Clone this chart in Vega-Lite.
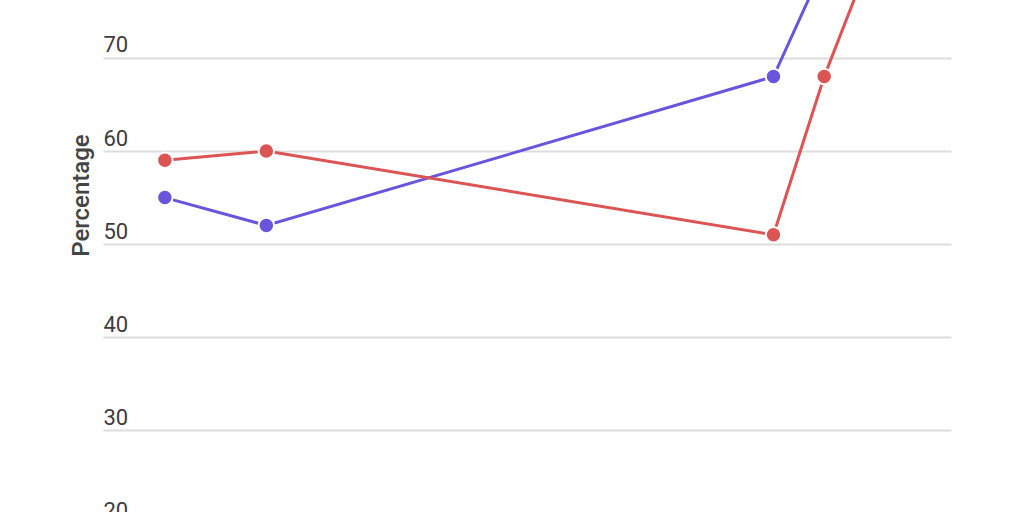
{
  "$schema": "https://vega.github.io/schema/vega-lite/v6.json",
  "autosize": "none",
  "width": 848,
  "height": 528,
  "padding": {"left": 103, "right": 73, "top": 0, "bottom": -16},
  "background": "#ffffff",
  "data": {
    "values": [
      {"year": 2010, "value": 55, "series": "A"},
      {"year": 2011, "value": 52, "series": "A"},
      {"year": 2016, "value": 68, "series": "A"},
      {"year": 2016.5, "value": 80, "series": "A"},
      {"year": 2010, "value": 59, "series": "B"},
      {"year": 2011, "value": 60, "series": "B"},
      {"year": 2016, "value": 51, "series": "B"},
      {"year": 2016.5, "value": 68, "series": "B"},
      {"year": 2017, "value": 82, "series": "B"}
    ]
  },
  "encoding": {
    "x": {
      "field": "year",
      "type": "quantitative",
      "scale": {"domain": [2009.39, 2017.75], "nice": false, "zero": false},
      "axis": null
    },
    "y": {
      "field": "value",
      "type": "quantitative",
      "scale": {"domain": [19.5, 76.228], "nice": false, "zero": false},
      "axis": {
        "title": "Percentage",
        "values": [20, 30, 40, 50, 60, 70],
        "domain": false,
        "ticks": false,
        "labelPadding": 0,
        "labelAlign": "left",
        "labelBaseline": "alphabetic",
        "labelOffset": -6,
        "labelFont": "Roboto",
        "labelFontSize": 22,
        "labelColor": "#3d3d3d",
        "gridColor": "#dddddd",
        "gridWidth": 1.8,
        "titleFont": "Roboto",
        "titleFontSize": 24,
        "titleFontWeight": 500,
        "titleColor": "#444444",
        "titleAngle": -90,
        "titleAlign": "center",
        "titleBaseline": "alphabetic",
        "titleX": -15,
        "titleY": 195
      }
    },
    "color": {
      "field": "series",
      "type": "nominal",
      "scale": {"domain": ["A", "B"], "range": ["#6b54dd", "#dc5454"]},
      "legend": null
    }
  },
  "layer": [
    {"mark": {"type": "line", "strokeWidth": 3, "clip": true}},
    {"mark": {"type": "point", "filled": true, "opacity": 1, "size": 240, "stroke": "#ffffff", "strokeWidth": 2, "clip": true}}
  ],
  "config": {"view": {"stroke": null}}
}
